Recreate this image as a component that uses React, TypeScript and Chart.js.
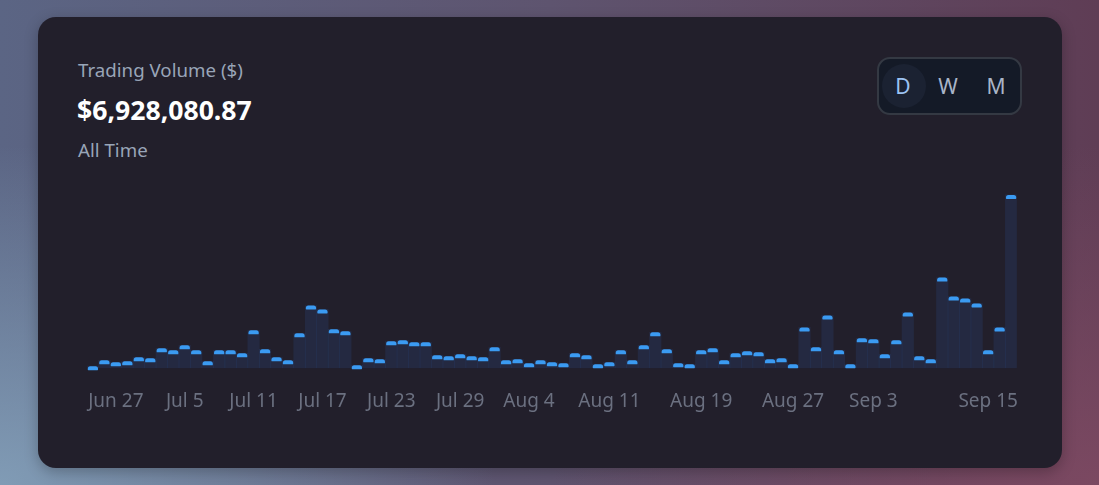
import React, { useEffect, useRef } from 'react';
import { Chart, registerables } from 'chart.js';

Chart.register(...registerables);

const DATES: string[] = [
  'Jun 25', 'Jun 26', 'Jun 27', 'Jun 28', 'Jun 30', 'Jul 1', 'Jul 3', 'Jul 4', 'Jul 5', 'Jul 6',
  'Jul 7', 'Jul 8', 'Jul 9', 'Jul 10', 'Jul 11', 'Jul 12', 'Jul 13', 'Jul 14', 'Jul 15', 'Jul 16',
  'Jul 17', 'Jul 18', 'Jul 19', 'Jul 20', 'Jul 21', 'Jul 22', 'Jul 23', 'Jul 24', 'Jul 25', 'Jul 26',
  'Jul 27', 'Jul 28', 'Jul 29', 'Jul 30', 'Jul 31', 'Aug 1', 'Aug 2', 'Aug 3', 'Aug 4', 'Aug 5',
  'Aug 6', 'Aug 7', 'Aug 8', 'Aug 9', 'Aug 10', 'Aug 11', 'Aug 12', 'Aug 13', 'Aug 14', 'Aug 15',
  'Aug 16', 'Aug 17', 'Aug 18', 'Aug 19', 'Aug 20', 'Aug 21', 'Aug 22', 'Aug 23', 'Aug 24', 'Aug 25',
  'Aug 26', 'Aug 27', 'Aug 28', 'Aug 29', 'Aug 30', 'Aug 31', 'Sep 1', 'Sep 2', 'Sep 3', 'Sep 4',
  'Sep 5', 'Sep 6', 'Sep 8', 'Sep 9', 'Sep 10', 'Sep 11', 'Sep 13', 'Sep 14', 'Sep 15', 'Sep 16',
  'Sep 17',
];

const VOLUMES: number[] = [
  7500, 29800, 22400, 26100, 41000, 37300, 74600, 67100, 85800, 67100,
  26100, 67100, 67100, 56000, 141700, 70900, 41000, 29800, 130500, 235000,
  220100, 145500, 138000, 11200, 37300, 33600, 100700, 104400, 97000, 97000,
  48500, 44800, 52200, 44800, 41000, 78300, 29800, 33600, 18700, 29800,
  22400, 18700, 56000, 48500, 14900, 22400, 67100, 29800, 85800, 134300,
  70900, 18700, 14900, 67100, 74600, 29800, 56000, 63400, 59700, 33600,
  37300, 14900, 152900, 78300, 197700, 67100, 14900, 111900, 108200, 52200,
  104400, 208900, 44800, 33600, 339400, 268600, 261100, 242500, 67100, 152900,
  649000,
];

const TICK_LABELS: string[] = [
  'Jun 27', 'Jul 5', 'Jul 11', 'Jul 17', 'Jul 23', 'Jul 29', 'Aug 4', 'Aug 11', 'Aug 19', 'Aug 27', 'Sep 3', 'Sep 15',
];

const Y_MAX = 700000;
const BAR_COLOR = 'rgba(59, 130, 246, 0.11)';
const CAP_COLOR = '#3b9bf2';
const FONT = '"Noto Sans", "Open Sans", sans-serif';

const capPlugin = {
  id: 'barCaps',
  afterDatasetsDraw(chart: any) {
    const ctx = chart.ctx;
    const meta = chart.getDatasetMeta(0);
    ctx.save();
    ctx.fillStyle = CAP_COLOR;
    meta.data.forEach((bar: any) => {
      const { x, y, width } = bar.getProps(['x', 'y', 'width'], true);
      const w = width - 1.2;
      ctx.beginPath();
      ctx.roundRect(x - w / 2, y, w, 4, [2.5, 2.5, 0.6, 0.6]);
      ctx.fill();
    });
    ctx.restore();
  },
};

function VolumeChart() {
  const ref = useRef<HTMLCanvasElement | null>(null);
  useEffect(() => {
    if (!ref.current) return;
    const chart = new Chart(ref.current, {
      type: 'bar',
      data: {
        labels: DATES,
        datasets: [
          {
            label: 'Volume',
            data: VOLUMES,
            backgroundColor: BAR_COLOR,
            borderWidth: 0,
            barPercentage: 1,
            categoryPercentage: 1,
          },
        ],
      },
      options: {
        responsive: false,
        animation: false,
        layout: { padding: { left: 0, right: 0, top: 12.3, bottom: 0 } },
        plugins: { legend: { display: false }, tooltip: { enabled: false } },
        scales: {
          x: {
            grid: { display: false, drawTicks: false },
            border: { display: false },
            ticks: {
              autoSkip: false,
              maxRotation: 0,
              minRotation: 0,
              padding: 22,
              color: '#6b7080',
              font: { family: FONT, size: 19 },
              callback: function (this: any, value: any) {
                const lab = this.getLabelForValue(value);
                return TICK_LABELS.includes(lab) ? lab : '';
              },
            },
          },
          y: { display: false, min: 0, max: Y_MAX },
        },
      },
      plugins: [capPlugin],
    });
    return () => chart.destroy();
  }, []);
  return <canvas ref={ref} width={962} height={266} style={{ display: 'block' }} />;
}

export default function App() {
  return (
    <div
      style={{
        position: 'fixed',
        inset: 0,
        overflow: 'hidden',
        fontFamily: FONT,
        background:
          'radial-gradient(ellipse 45% 70% at 0% 100%, rgba(135,165,190,0.85), rgba(135,165,190,0) 100%), radial-gradient(ellipse 50% 70% at 100% 100%, rgba(130,75,100,0.8), rgba(130,75,100,0) 100%), linear-gradient(90deg, #5b6584 0%, #5e546f 50%, #5f3d55 100%)',
      }}
    >
      <div
        style={{
          position: 'absolute',
          left: 38,
          top: 17,
          width: 1024,
          height: 451,
          borderRadius: 18,
          background: '#221f2b',
          boxShadow: '0 4px 14px rgba(0,0,0,0.25)',
        }}
      />
      <div style={{ position: 'absolute', left: 78, top: 58, fontSize: 18.7, lineHeight: '24px', color: '#99a5b8' }}>
        Trading Volume ($)
      </div>
      <div style={{ position: 'absolute', left: 77, top: 93, fontSize: 26.6, lineHeight: '34px', fontWeight: 700, color: '#ffffff' }}>
        $6,928,080.87
      </div>
      <div style={{ position: 'absolute', left: 78, top: 138, fontSize: 18.7, lineHeight: '24px', color: '#99a5b8' }}>
        All Time
      </div>
      <div
        style={{
          position: 'absolute',
          left: 877,
          top: 57,
          width: 145,
          height: 58,
          boxSizing: 'border-box',
          border: '2px solid #343943',
          borderRadius: 13,
          background: '#141a27',
        }}
      >
        <div
          style={{
            position: 'absolute',
            left: 3,
            top: 5,
            width: 44,
            height: 44,
            borderRadius: 22,
            background: '#1b2232',
          }}
        />
        {[
          { t: 'D', cx: 24, c: '#9cc3f2' },
          { t: 'W', cx: 69, c: '#a9b5c8' },
          { t: 'M', cx: 117, c: '#a9b5c8' },
        ].map((b) => (
          <div
            key={b.t}
            style={{
              position: 'absolute',
              left: b.cx - 20,
              width: 40,
              top: 13,
              textAlign: 'center',
              fontSize: 21,
              lineHeight: '28px',
              color: b.c,
            }}
          >
            {b.t}
          </div>
        ))}
      </div>
      <div style={{ position: 'absolute', left: 71, top: 169 }}>
        <VolumeChart />
      </div>
    </div>
  );
}
